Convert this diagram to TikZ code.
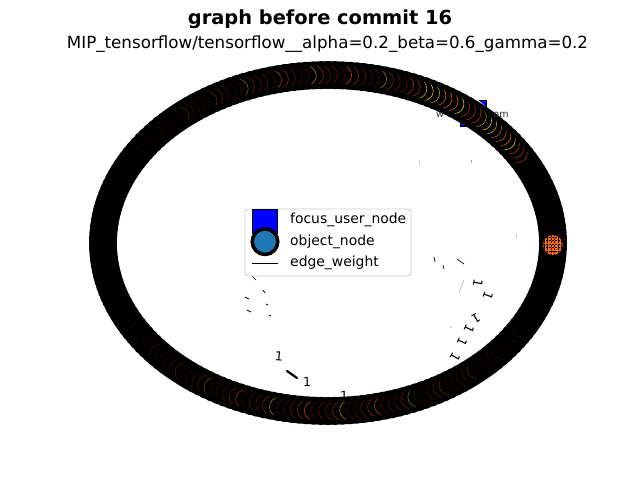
\documentclass[tikz,border=0pt]{standalone}
\usepackage{fontspec}
\setmainfont{DejaVu Sans}
\definecolor{tabblue}{HTML}{1F77B4}
\definecolor{rA}{HTML}{5A1000}
\definecolor{rB}{HTML}{8A1C00}
\definecolor{rC}{HTML}{B83200}
\definecolor{rD}{HTML}{E86000}
\definecolor{yA}{HTML}{C8B000}
\definecolor{yB}{HTML}{F0D800}
\definecolor{legedge}{HTML}{CCCCCC}
\definecolor{orangeN}{HTML}{FF6A00}
\tikzset{
  ttl/.style={font=\bfseries\fontsize{19.4}{22}\selectfont, inner sep=0pt},
  subttl/.style={font=\fontsize{16.7}{19}\selectfont, inner sep=0pt},
  legtxt/.style={font=\fontsize{13.9}{16}\selectfont, anchor=west, inner sep=0pt},
  wlabel/.style={font=\fontsize{12.5}{14}\selectfont, inner sep=0pt},
  tinylabel/.style={font=\fontsize{9.5}{11}\selectfont, inner sep=0pt, text=black!80},
  ringnode/.style={fill=black},
  focusfrag/.style={fill=blue},
  focusedge/.style={draw=black, line width=0.8},
  edgefrag/.style={black, line width=0.7},
  faintfrag/.style={black!35, line width=0.5},
}
\begin{document}
\begin{tikzpicture}[x=1pt,y=-1pt]
\useasboundingbox (0,0) rectangle (640,480);
\fill[white] (0,0) rectangle (640,480);

% titles
\node[ttl] (title) at (320,19) {graph before commit 16};
\node[subttl] (subtitle) at (327.5,44) {MIP\_tensorflow/tensorflow\_\_alpha=0.2\_beta=0.6\_gamma=0.2};

% ring of object nodes
\foreach \i in {0,...,199}{
  \pgfmathsetmacro\t{\i*1.8}
  \pgfmathsetmacro\px{328+225*cos(\t)}
  \pgfmathsetmacro\py{243-168*sin(\t)}
  \pgfmathtruncatemacro\k{mod(\i*37+3,10)}
  \pgfmathtruncatemacro\hot{and(\t>32,\t<72)}
  \pgfmathsetmacro\op{\hot==1 ? 1 : 0.04+0.8*(sin(\t))^4}
  \ifnum\hot=1
    \ifcase\k \def\cc{yB}\or\def\cc{rD}\or\def\cc{yA}\or\def\cc{rC}\or\def\cc{rD}\or\def\cc{yB}\or\def\cc{rC}\or\def\cc{rD}\or\def\cc{yA}\else\def\cc{rC}\fi
  \else
    \ifcase\k \def\cc{rB}\or\def\cc{rA}\or\def\cc{rC}\or\def\cc{rB}\or\def\cc{yA}\or\def\cc{rB}\or\def\cc{rA}\or\def\cc{rC}\or\def\cc{rA}\else\def\cc{rD}\fi
  \fi
  \fill[ringnode] (\px,\py) circle[radius=14];
  \draw[\cc, draw opacity=\op, line width=0.55] (\px,\py) circle[radius=9.5];
}

% focus user node: only its two corners show beside the ring band
\coordinate (focus) at (473,113);
\fill[focusfrag] (479,100.5) -- (486,100.5) -- (486,106.5) -- cycle;
\draw[focusedge] (479,100.5) -- (486,100.5) -- (486,106.5);
\fill[focusfrag] (460,122.8) -- (460,126) -- (465.5,126) -- cycle;
\draw[focusedge] (460,122.8) -- (460,126) -- (465.5,126);

% label of focus node (visible parts)
\node[tinylabel] (flabelA) at (440,114.5) {w};
\node[tinylabel] (flabelB) at (501,114.5) {om};

% orange node on the right
\begin{scope}
  \clip (553,245) circle[radius=10];
  \fill[orangeN] (553,245) circle[radius=10];
  \foreach \x in {544,547.5,...,562}{ \draw[black, line width=0.45, dash pattern=on 2pt off 1.2pt] (\x,235) -- (\x,255); }
  \foreach \y in {237,240.5,...,254}{ \draw[black, line width=0.35, dash pattern=on 1.5pt off 1.5pt] (543,\y) -- (563,\y); }
\end{scope}
\coordinate (orangeN) at (553,245);

% edge labels inside
\node[wlabel, rotate=-100] (w1) at (478,283) {1};
\node[wlabel, rotate=-110] (w2) at (488,296) {1};
\node[wlabel, rotate=-150] (w3) at (476,318) {1};
\node[wlabel, rotate=-115] (w3b) at (469,329) {1};
\node[wlabel, rotate=-115] (w4) at (462,342) {1};
\node[wlabel, rotate=-120] (w5) at (455,357) {1};
\node[wlabel, rotate=-5] (w6) at (279,356) {1};
\node[wlabel] (w7) at (307,382) {1};
\node[wlabel] (w8) at (344,396) {1};

% small edge fragments
\coordinate (m1a) at (287,371); \coordinate (m1b) at (297,378);
\draw[black, line width=2.2, line cap=round] (m1a) -- (m1b);
\coordinate (m2a) at (252,276); \coordinate (m2b) at (256,280);
\draw[edgefrag] (m2a) -- (m2b);
\coordinate (m3a) at (245,297); \coordinate (m3b) at (249,299);
\draw[edgefrag] (m3a) -- (m3b);
\coordinate (m4a) at (247,310); \coordinate (m4b) at (251,312);
\draw[edgefrag] (m4a) -- (m4b);
\coordinate (m5a) at (266,304); \coordinate (m5b) at (268,305);
\draw[edgefrag] (m5a) -- (m5b);
\coordinate (m6a) at (269,315); \coordinate (m6b) at (271,316);
\draw[edgefrag] (m6a) -- (m6b);
\coordinate (m7a) at (263,290); \coordinate (m7b) at (265,293);
\draw[edgefrag] (m7a) -- (m7b);
\coordinate (m8a) at (434,257); \coordinate (m8b) at (435,262);
\draw[edgefrag] (m8a) -- (m8b);
\coordinate (m9a) at (443,265); \coordinate (m9b) at (444,269);
\draw[edgefrag] (m9a) -- (m9b);
\coordinate (m10a) at (457,259); \coordinate (m10b) at (464,264);
\draw[edgefrag] (m10a) -- (m10b);
\coordinate (m11a) at (459,292); \coordinate (m11b) at (464,280);
\draw[faintfrag] (m11a) -- (m11b);
\coordinate (m12a) at (420,160); \coordinate (m12b) at (419,165);
\draw[faintfrag] (m12a) -- (m12b);
\coordinate (m13a) at (471,160); \coordinate (m13b) at (471,163);
\draw[faintfrag] (m13a) -- (m13b);
\coordinate (m14a) at (516,238); \coordinate (m14b) at (517,235);
\draw[faintfrag] (m14a) -- (m14b);
\coordinate (m15a) at (450,328); \coordinate (m15b) at (452,326);
\draw[faintfrag] (m15a) -- (m15b);

% legend
\draw[legedge, fill=white, fill opacity=0.8, rounded corners=3pt, line width=0.8] (245,209) rectangle (411,276);
\node[rectangle, draw=black, fill=blue, line width=0.8, minimum width=24.5pt, minimum height=24pt, inner sep=0pt] (legsq) at (265,221.5) {};
\node[circle, draw=black, fill=tabblue, line width=3.5pt, minimum size=25.6pt, inner sep=0pt] (legci) at (265,241.7) {};
\coordinate (legA) at (252,263); \coordinate (legB) at (278,263);
\draw[black, line width=1] (legA) -- (legB);
\node[legtxt] (lt1) at (290,220) {focus\_user\_node};
\node[legtxt] (lt2) at (290,241.5) {object\_node};
\node[legtxt] (lt3) at (290,263) {edge\_weight};
\end{tikzpicture}
\end{document}
